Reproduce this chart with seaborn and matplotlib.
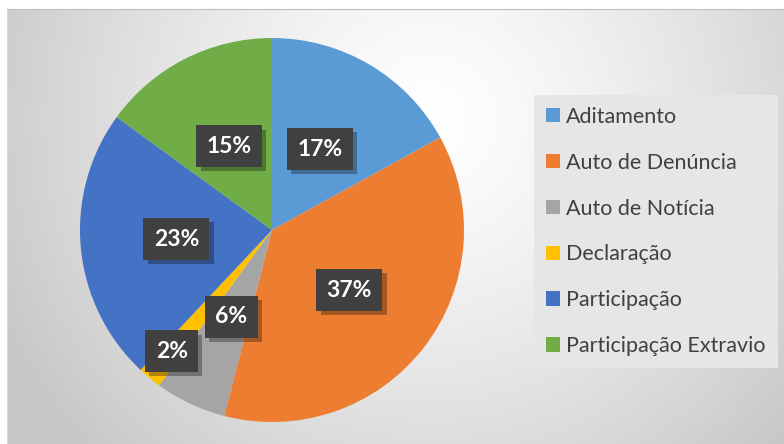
import numpy as np
import matplotlib
matplotlib.use("Agg")
import matplotlib.pyplot as plt
import matplotlib.patheffects as pe
from matplotlib.patches import Patch
import seaborn as sns

# data
categories = ["Aditamento", "Auto de Denúncia", "Auto de Notícia", "Declaração",
              "Participação", "Participação Extravio"]
shares = [17, 37, 6, 2, 23, 15]
pct_labels = ["17%", "37%", "6%", "2%", "23%", "15%"]
label_radius = [0.49, 0.51, 0.50, 0.82, 0.50, 0.49]
colors = ["#5B9BD5", "#ED7D31", "#A5A5A5", "#FFC000", "#4472C4", "#70AD47"]

sns.set_style("white")
plt.rcParams["font.family"] = ["Lato", "DejaVu Sans"]

W, H = 784, 444
fig = plt.figure(figsize=(W / 100, H / 100), dpi=100)

# chart area background: soft radial gradient, white to grey
bg = fig.add_axes([7 / W, 0, (W - 7) / W, (H - 9) / H])
yy, xx = np.mgrid[9:H, 7:W]
d = np.hypot(xx - 430, yy - 120) / 480
v = 1 - 0.22 * np.clip(d, 0, 1) ** 1.3
bg.imshow(np.dstack([v, v, v]), aspect="auto", extent=[0, 1, 0, 1])
bg.set_xticks([])
bg.set_yticks([])
for s in bg.spines.values():
    s.set_visible(False)
bg.spines["top"].set_visible(True)
bg.spines["top"].set_color("#bfbfbf")
bg.spines["left"].set_visible(True)
bg.spines["left"].set_color("#d9d9d9")

# pie
cx, cy, r = 272, 230, 192
ax = fig.add_axes([(cx - r) / W, (H - cy - r) / H, 2 * r / W, 2 * r / H])
wedges, _ = ax.pie(shares, colors=colors, startangle=90, counterclock=False,
                   wedgeprops=dict(linewidth=0))
ax.set_xlim(-1, 1)
ax.set_ylim(-1, 1)
ax.set_aspect("equal")
ax.axis("off")

for w, lab, rr in zip(wedges, pct_labels, label_radius):
    ang = np.deg2rad((w.theta1 + w.theta2) / 2)
    t = ax.text(rr * np.cos(ang), rr * np.sin(ang), lab, ha="center", va="center",
                color="white", fontsize=16.5, fontweight="bold",
                bbox=dict(boxstyle="square,pad=0.45", facecolor="#404040",
                          edgecolor="none"))
    t.get_bbox_patch().set_path_effects(
        [pe.SimplePatchShadow(offset=(3, -3), shadow_rgbFace="#000000", alpha=0.3),
         pe.Normal()])

# legend
handles = [Patch(facecolor=c, edgecolor="none") for c in colors]
leg = fig.legend(handles, categories, loc="upper left",
                 bbox_to_anchor=(534 / W, 1 - 95 / H), frameon=True,
                 fancybox=False, fontsize=15.5, labelcolor="#404040",
                 handlelength=0.65, handleheight=0.65, handletextpad=0.3,
                 labelspacing=1.2, borderpad=0.55, borderaxespad=0)
leg.get_frame().set_facecolor("#e6e6e6")
leg.get_frame().set_edgecolor("none")
leg.get_frame().set_alpha(1)

fig.savefig("out.png", dpi=100)
